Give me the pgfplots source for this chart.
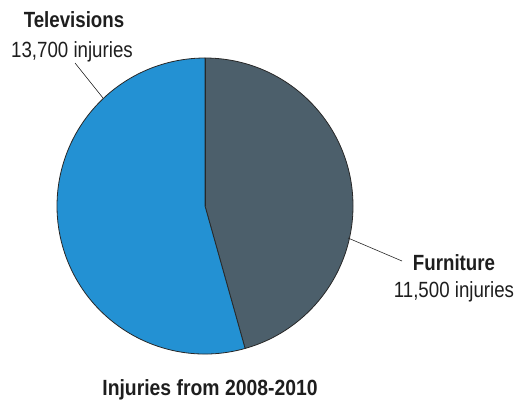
\documentclass[border=0pt]{standalone}
\usepackage{fontspec}
\setmainfont{Liberation Sans}[FakeStretch=0.85]
\newfontfamily\titlefont{Liberation Sans}[FakeStretch=0.88]
\usepackage{pgfplots}
\usepackage{pgfplotstable}
\pgfplotsset{compat=1.18}
\definecolor{furn}{RGB}{76,95,107}
\definecolor{tv}{RGB}{35,145,211}
\definecolor{edge}{RGB}{40,40,40}
\definecolor{txt}{RGB}{30,30,30}
\pgfplotstableread{
category value
Furniture 11500
Televisions 13700
}\piedata
\pgfplotstablegetelem{0}{value}\of\piedata \let\vF\pgfplotsretval
\pgfplotstablegetelem{1}{value}\of\piedata \let\vT\pgfplotsretval
\pgfmathsetmacro\fracF{(\vF/1000)/(\vF/1000+\vT/1000)}
\pgfmathsetmacro\endF{90-360*\fracF}
\begin{document}
\begin{tikzpicture}[x=1pt,y=1pt]
\path[use as bounding box] (0,0) rectangle (519,400);
\begin{axis}[
  at={(57pt,46pt)}, anchor=south west,
  scale only axis, width=296pt, height=296pt,
  xmin=-1, xmax=1, ymin=-1, ymax=1,
  hide axis, clip=false]
\filldraw[fill=furn, draw=edge, line width=0.8pt, line join=round]
  (axis cs:0,0) -- (axis cs:0,1) arc[start angle=90, end angle=\endF, radius=148pt] -- cycle;
\filldraw[fill=tv, draw=edge, line width=0.8pt, line join=round]
  (axis cs:0,0) -- (axis cs:{cos(\endF)},{sin(\endF)}) arc[start angle=\endF, end angle=-270, radius=148pt] -- cycle;
\draw[edge, line width=0.8pt] (axis cs:0,0) -- (axis cs:0,1);
\end{axis}
\draw[edge, line width=0.6pt] (75,337) -- (103,302);
\draw[edge, line width=0.6pt] (348,162) -- (402,139);
\node[anchor=base, inner sep=0, txt, font=\fontsize{22}{26}\selectfont\bfseries] at (74,372) {Televisions};
\node[anchor=base, inner sep=0, txt, font=\fontsize{22}{26}\selectfont] at (72,343) {13,700 injuries};
\node[anchor=base, inner sep=0, txt, font=\fontsize{22}{26}\selectfont\bfseries] at (454,130) {Furniture};
\node[anchor=base, inner sep=0, txt, font=\fontsize{22}{26}\selectfont] at (454,103) {11,500 injuries};
\node[anchor=base, inner sep=0, txt, font=\titlefont\fontsize{22}{26}\selectfont\bfseries] at (210,5) {Injuries from 2008-2010};
\end{tikzpicture}
\end{document}
